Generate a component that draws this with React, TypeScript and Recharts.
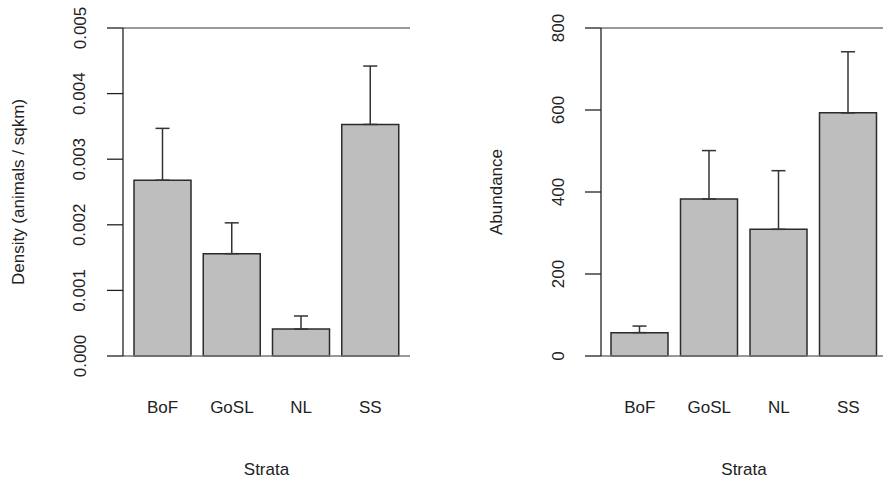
import React from "react";
import {
  BarChart,
  Bar,
  XAxis,
  YAxis,
  ErrorBar,
  ReferenceLine,
} from "recharts";

const strata = ["BoF", "GoSL", "NL", "SS"];
const density = [0.00268, 0.00156, 0.00041, 0.00353];
const densityErr = [0.00079, 0.00047, 0.0002, 0.00089];
const abundance = [57, 383, 309, 593];
const abundanceErr = [16, 118, 143, 149];
const densityTicks = [0, 0.001, 0.002, 0.003, 0.004, 0.005];
const abundanceTicks = [0, 200, 400, 600, 800];

const densityData = strata.map((name, i) => ({
  name,
  value: density[i],
  err: [0, densityErr[i]],
}));
const abundanceData = strata.map((name, i) => ({
  name,
  value: abundance[i],
  err: [0, abundanceErr[i]],
}));

const FONT = "'Liberation Sans', Arial, sans-serif";
const FS = 17;
const TEXT = "#222222";
const AXIS = "#222222";
const BOX = "#777777";

const makeYTick = (fmt: (v: number) => string) => (props: any) => {
  const { x, y, payload } = props;
  const cx = x - 27;
  return (
    <text
      x={cx}
      y={y}
      transform={`rotate(-90, ${cx}, ${y})`}
      textAnchor="middle"
      dominantBaseline="central"
      fontSize={FS}
      fontFamily={FONT}
      fill={TEXT}
    >
      {fmt(payload.value)}
    </text>
  );
};

const XTick = (props: any) => {
  const { x, y, payload } = props;
  return (
    <text
      x={x}
      y={y + 51}
      textAnchor="middle"
      dominantBaseline="central"
      fontSize={FS}
      fontFamily={FONT}
      fill={TEXT}
    >
      {payload.value}
    </text>
  );
};

const xTitle = (props: any) => {
  const { x, y, width } = props.viewBox;
  return (
    <text
      x={x + width / 2}
      y={y + 113}
      textAnchor="middle"
      dominantBaseline="central"
      fontSize={FS}
      fontFamily={FONT}
      fill={TEXT}
    >
      Strata
    </text>
  );
};

const yTitle = (text: string, off: number) => (props: any) => {
  const { x, y, width, height } = props.viewBox;
  const cx = x + width - off;
  const cy = y + height / 2;
  return (
    <text
      x={cx}
      y={cy}
      transform={`rotate(-90, ${cx}, ${cy})`}
      textAnchor="middle"
      dominantBaseline="central"
      fontSize={FS}
      fontFamily={FONT}
      fill={TEXT}
    >
      {text}
    </text>
  );
};

interface PanelProps {
  data: { name: string; value: number; err: number[] }[];
  ticks: number[];
  fmt: (v: number) => string;
  title: string;
  width: number;
  axisWidth: number;
  right: number;
  pad: number;
}

function Panel({ data, ticks, fmt, title, width, axisWidth, right, pad }: PanelProps) {
  const top = ticks[ticks.length - 1];
  return (
    <BarChart
      width={width}
      height={480}
      data={data}
      margin={{ top: 28, right, left: 0, bottom: 0 }}
      barSize={57}
    >
      <XAxis
        dataKey="name"
        height={124}
        axisLine={false}
        tickLine={false}
        tickSize={0}
        tickMargin={0}
        padding={{ left: pad, right: pad }}
        tick={<XTick />}
        label={xTitle}
      />
      <YAxis
        width={axisWidth}
        domain={[0, top]}
        ticks={ticks}
        interval={0}
        tickSize={16}
        tickMargin={0}
        axisLine={{ stroke: AXIS, strokeWidth: 1.3 }}
        tickLine={{ stroke: AXIS, strokeWidth: 1.3 }}
        tick={makeYTick(fmt)}
        label={yTitle(title, 105)}
      />
      <YAxis
        yAxisId="box"
        orientation="right"
        width={0}
        domain={[0, 1]}
        tick={false}
        tickLine={false}
        axisLine={{ stroke: BOX, strokeWidth: 1.3 }}
      />
      <ReferenceLine y={top} stroke={BOX} strokeWidth={1.3} />
      <ReferenceLine y={0} stroke={BOX} strokeWidth={1.3} />
      <Bar
        dataKey="value"
        fill="#bebebe"
        stroke="#2b2b2b"
        strokeWidth={1.5}
        isAnimationActive={false}
      >
        <ErrorBar dataKey="err" width={7} stroke="#333333" strokeWidth={1.5} direction="y" />
      </Bar>
    </BarChart>
  );
}

export default function App() {
  return (
    <div
      style={{
        position: "absolute",
        left: 0,
        top: 0,
        width: 883,
        height: 480,
        overflow: "hidden",
        background: "#ffffff",
      }}
    >
      <div style={{ position: "absolute", left: 0, top: 0 }}>
        <Panel
          data={densityData}
          ticks={densityTicks}
          fmt={(v) => v.toFixed(3)}
          title="Density (animals / sqkm)"
          width={440}
          axisWidth={123}
          right={30}
          pad={5}
        />
      </div>
      <div style={{ position: "absolute", left: 440, top: 0 }}>
        <Panel
          data={abundanceData}
          ticks={abundanceTicks}
          fmt={(v) => String(v)}
          title="Abundance"
          width={460}
          axisWidth={161}
          right={13}
          pad={4}
        />
      </div>
    </div>
  );
}
